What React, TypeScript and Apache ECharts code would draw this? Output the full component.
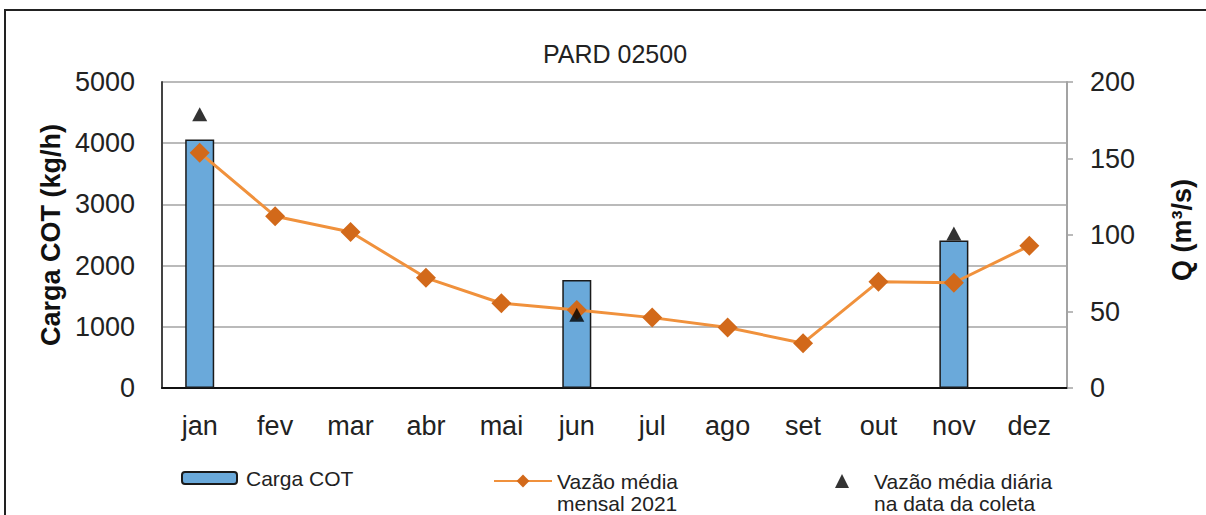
import React, { useEffect, useRef } from "react";
import * as echarts from "echarts";

const months = ["jan", "fev", "mar", "abr", "mai", "jun", "jul", "ago", "set", "out", "nov", "dez"];
const cargaCOT = [4060, null, null, null, null, 1765, null, null, null, null, 2410, null];
const vazaoMensal = [153.8, 112.3, 102, 72, 55.4, 51, 46, 39.5, 29.3, 69.5, 68.8, 92.9];
const vazaoColeta = [179, null, null, null, null, 47.8, null, null, null, null, 101, null];
const leftTicks = { min: 0, max: 5000, interval: 1000 };
const rightTicks = { min: 0, max: 200, interval: 50 };

const FONT = "'Liberation Sans', Arial, sans-serif";
const nameBar = "Carga COT";
const nameLine = "Vazão média\nmensal 2021";
const nameTri = "Vazão média diária\nna data da coleta";

export default function App() {
  const ref = useRef<HTMLDivElement>(null);
  useEffect(() => {
    if (!ref.current) return;
    const chart = echarts.init(ref.current, null, { renderer: "svg" });
    const legendText = { fontSize: 21, color: "#222", fontFamily: FONT, lineHeight: 22 };
    const twoLine = (n: string) => "\n" + n;
    chart.setOption({
      animation: false,
      backgroundColor: "#fff",
      textStyle: { fontFamily: FONT },
      title: {
        text: "PARD 02500",
        left: 610,
        top: 36,
        textAlign: "center",
        textStyle: { fontSize: 25, fontWeight: "normal", color: "#222", fontFamily: FONT },
      },
      graphic: [
        {
          type: "rect",
          shape: { x: 5, y: 10, width: 1220, height: 530 },
          style: { fill: "none", stroke: "#222", lineWidth: 2 },
          silent: true,
        },
      ],
      grid: { left: 162, right: 139, top: 82, bottom: 127 },
      legend: [
        {
          data: [nameBar],
          left: 181,
          top: 467,
          padding: 0,
          itemWidth: 55,
          itemHeight: 12,
          selectedMode: false,
          textStyle: { ...legendText, padding: [0, 0, 0, 4] },
        },
        {
          data: [nameLine],
          left: 493,
          top: 448,
          padding: 0,
          itemWidth: 58,
          itemHeight: 16,
          selectedMode: false,
          formatter: twoLine,
          textStyle: { ...legendText },
        },
        {
          data: [{ name: nameTri, icon: "triangle" }],
          left: 835,
          top: 448,
          padding: 0,
          itemWidth: 14,
          itemHeight: 14,
          selectedMode: false,
          formatter: twoLine,
          textStyle: { ...legendText, padding: [0, 0, 0, 20] },
        },
      ],
      xAxis: {
        type: "category",
        data: months,
        boundaryGap: true,
        axisLine: { show: true, lineStyle: { color: "#111", width: 2 } },
        axisTick: { show: false },
        axisLabel: { fontSize: 27, color: "#222", margin: 24, fontFamily: FONT },
      },
      yAxis: [
        {
          type: "value",
          ...leftTicks,
          position: "left",
          name: "Carga COT (kg/h)",
          nameLocation: "middle",
          nameRotate: 90,
          nameGap: 93,
          nameTextStyle: { fontSize: 27, fontWeight: "bold", color: "#111", fontFamily: FONT },
          axisLine: { show: true, lineStyle: { color: "#444", width: 2 } },
          axisTick: { show: false },
          axisLabel: {
            fontSize: 27,
            color: "#222",
            margin: 27,
            fontFamily: FONT,
            formatter: (v: number) => String(v),
          },
          splitLine: { show: true, lineStyle: { color: "#A3A3A3", width: 1.5 } },
        },
        {
          type: "value",
          ...rightTicks,
          position: "right",
          name: "Q (m³/s)",
          nameLocation: "middle",
          nameRotate: 90,
          nameGap: 101,
          nameTextStyle: { fontSize: 27, fontWeight: "bold", color: "#111", fontFamily: FONT, padding: [0, 0, 0, 10] },
          axisLine: { show: true, lineStyle: { color: "#A3A3A3", width: 2 } },
          axisTick: { show: true, inside: false, length: 6, lineStyle: { color: "#A3A3A3", width: 1.5 } },
          axisLabel: { fontSize: 27, color: "#222", margin: 23, fontFamily: FONT, formatter: (v: number) => String(v) },
          splitLine: { show: false },
        },
      ],
      series: [
        {
          name: nameBar,
          type: "bar",
          data: cargaCOT,
          barWidth: 29,
          yAxisIndex: 0,
          itemStyle: { color: "#6AA9DA", borderColor: "#1a1a1a", borderWidth: 1.5 },
          z: 2,
        },
        {
          name: nameLine,
          type: "line",
          data: vazaoMensal,
          yAxisIndex: 1,
          symbol: "diamond",
          symbolSize: 20,
          lineStyle: { color: "#F0913C", width: 3 },
          itemStyle: { color: "#D2691A" },
          z: 3,
        },
        {
          name: nameTri,
          type: "scatter",
          data: vazaoColeta,
          yAxisIndex: 1,
          symbol: "triangle",
          symbolSize: [15, 14],
          itemStyle: { color: "#000" },
          z: 4,
        },
      ],
    });
    return () => chart.dispose();
  }, []);
  return (
    <div
      ref={ref}
      style={{ position: "fixed", left: 0, top: 0, width: 1206, height: 515, background: "#fff" }}
    />
  );
}
